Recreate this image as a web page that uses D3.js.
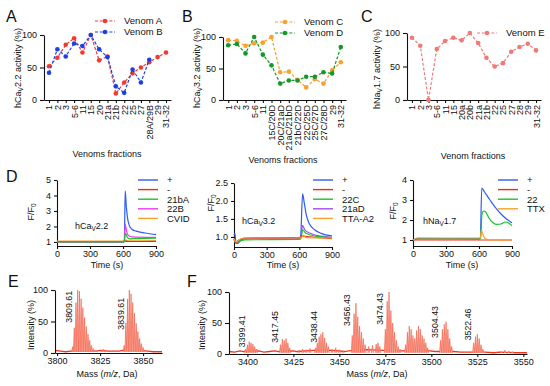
<!DOCTYPE html>
<html>
<head>
<meta charset="utf-8">
<script src="https://cdn.jsdelivr.net/npm/d3@7"></script>
<style>
  body { margin: 0; background: #fff; }
  svg text { font-family: "Liberation Sans", Arial, sans-serif; fill: #111; }
</style>
</head>
<body>
<svg id="fig" width="550" height="386"></svg>
<script>
// ---- data: activity panels (A, B, C) ----
var catsA = ["1","2","3","5-6","11","15","20","21a","21b","22","25","27","28A/29B","29","31-32"];
var venomA = [52,65,85,95,73,100,61,67,10,27,41,50,58,66,73];
var venomB = [42,78,67,87,83,100,78,66,21,11,47,27,62,null,null];

var catsB = ["1","2","3","5-6","11","15C/20D","20C/21aD","21aC/21bD","21bC/22D","22C/25D","25C/27D","27C/28D","29","31-32"];
var venomC = [95,94,86,90,91,100,44,45,32,20,33,26,47,60];
var venomD = [87,89,74,100,72,55,26,31,31,37,37,44,42,84];

var catsC = ["1","2","3","5-6","11","15","20a","20b","21a","21b","22","25","27","28","29","31-32"];
var venomE = [93,81,0,76,88,93,89,100,85,63,50,55,72,79,84,74];

// ---- data: fluorescence traces (D), [time s, F/F0] ----
var d1Plus  = [[0,1.0],[600,1.0],[612,1.03],[620,4.3],[630,3.3],[640,2.6],[655,2.1],[680,1.82],[720,1.7],[800,1.58],[900,1.47]];
var d1Minus = [[0,1.02],[600,1.02],[620,1.05],[650,1.03],[900,1.04]];
var d1_21bA = [[0,1.0],[600,1.0],[612,1.02],[622,1.55],[640,1.3],[660,1.2],[720,1.22],[900,1.25]];
var d1_22B  = [[0,1.0],[600,1.0],[612,1.03],[620,2.15],[632,1.7],[650,1.42],[680,1.33],[900,1.3]];
var d1CVID  = [[0,1.05],[600,1.05],[620,1.12],[650,1.08],[900,1.08]];

var d2Plus  = [[0,1.05],[8,1.1],[18,0.84],[35,0.82],[60,0.9],[100,0.95],[200,0.96],[600,0.96],[612,1.02],[630,2.2],[645,1.95],[665,1.6],[695,1.35],[740,1.2],[800,1.1],[900,1.03]];
var d2Minus = [[0,0.95],[18,0.85],[40,0.9],[100,0.97],[600,0.98],[620,1.03],[700,1.0],[900,0.95]];
var d2_22C  = [[0,0.95],[18,0.82],[40,0.87],[100,0.92],[600,0.93],[615,0.96],[630,1.2],[660,1.1],[750,1.02],[900,0.98]];
var d2_21aD = [[0,0.95],[18,0.83],[50,0.92],[100,0.95],[600,0.96],[615,1.0],[630,1.32],[650,1.2],[700,1.1],[800,1.02],[900,0.99]];
var d2TTA   = [[0,0.95],[18,0.86],[50,0.93],[100,0.97],[600,0.97],[620,0.98],[635,1.05],[660,0.98],[900,0.97]];

var d3Plus  = [[0,1.0],[40,1.08],[600,1.07],[612,1.1],[625,3.6],[650,3.4],[700,3.0],[750,2.62],[800,2.3],[850,2.05],[900,1.86]];
var d3Minus = [[0,1.0],[600,1.0],[900,1.0]];
var d3_22   = [[0,1.0],[40,1.05],[600,1.05],[615,1.1],[627,2.3],[642,2.45],[660,2.4],[690,2.1],[720,1.9],[760,1.78],[800,1.8],[840,1.9],[870,1.85],[900,1.72]];
var d3TTX   = [[0,1.0],[40,1.1],[600,1.1],[612,1.1],[622,1.5],[640,1.2],[665,1.05],[700,1.0],[900,1.0]];

// ---- data: mass spectra (E, F), [m/z, intensity %] ----
var peaksE = [[3809,10],[3810,40],[3811,80],[3812,100],[3813,98],[3814,86],[3815,72],[3816,56],[3817,42],[3818,30],[3819,20],[3820,12],[3821,7],[3822,4],
              [3826,5],[3827,6],[3828,4],[3832,3],[3834,4],
              [3839,12],[3840,48],[3841,86],[3842,100],[3843,94],[3844,80],[3845,63],[3846,47],[3847,34],[3848,23],[3849,15],[3850,9],[3851,5],[3852,3]];
var baseE = [[3799,4],[3802,3],[3805,2],[3808,3],[3823,3],[3825,4],[3830,3],[3833,3],[3836,3],[3838,4],[3853,3],[3856,2],[3861,2]];
var labelsE = ["3809.61","3839.61"];
var labelLevelE = [48,37];

var peaksF = [[3399,8],[3400,15],[3401,20],[3402,18],[3403,16],[3404,12],[3405,8],
              [3418,15],[3419,24],[3420,22],[3421,25],[3422,18],[3423,10],
              [3428,6],[3430,8],[3432,7],[3434,9],
              [3437,10],[3438,18],[3439,28],[3440,32],[3441,35],[3442,26],[3443,18],[3444,12],
              [3446,8],[3448,10],[3450,7],[3452,5],
              [3457,30],[3458,65],[3459,82],[3460,60],[3461,45],[3462,35],[3463,25],[3464,15],
              [3466,12],[3468,14],[3470,16],[3471,18],[3472,12],
              [3475,40],[3476,85],[3477,100],[3478,70],[3479,50],[3480,35],[3481,22],[3482,12],[3483,8],
              [3486,15],[3487,35],[3488,45],[3489,40],[3490,30],[3491,25],[3492,38],[3493,45],[3494,40],[3495,30],[3496,25],[3497,18],[3498,10],
              [3505,22],[3506,40],[3507,48],[3508,52],[3509,40],[3510,25],[3511,12],
              [3523,18],[3524,28],[3525,32],[3526,25],[3527,15],[3528,8],
              [3538,4],[3540,6],[3542,5],[3544,4]];
var baseF = [[3390,4],[3393,3],[3396,5],[3398,4],[3406,5],[3409,3],[3412,4],[3415,5],[3417,4],[3425,5],[3427,4],[3436,6],[3446,6],[3453,4],[3455,5],[3465,7],[3474,6],[3484,5],[3499,5],[3502,4],[3504,4],[3512,4],[3516,3],[3520,3],[3529,3],[3534,2],[3537,3],[3546,2],[3552,2]];
var labelsF = ["3399.41","3417.45","3438.44","3456.43","3474.43","3504.43","3522.46"];
var labelLevelF = [11,18,18,45,47,26,22];

var svg = d3.select("#fig");
var FONT = 9;

function styleAxis(g){
  g.attr("font-family", null).attr("font-size", null);
  g.selectAll("text").attr("font-size", FONT + "px").attr("fill", "#111");
  g.selectAll("path, line").attr("stroke", "#111").attr("stroke-width", 1.1);
}

// rotated label with an optional subscript
function rotLabel(cx, cy, parts){
  var t = svg.append("text")
      .attr("transform", "translate(" + cx + "," + cy + ") rotate(-90)")
      .attr("text-anchor", "middle")
      .attr("font-size", FONT + "px");
  parts.forEach(function(p){
    var s = t.append("tspan").text(p[0]);
    if (p[1] == "sub") s.attr("dy", 2).attr("font-size", "6.5px");
    if (p[1] == "up") s.attr("dy", -2);
  });
  return t;
}
function plainLabel(x, y, parts, anchor){
  var t = svg.append("text").attr("x", x).attr("y", y)
      .attr("font-size", FONT + "px").attr("text-anchor", anchor || "start");
  parts.forEach(function(p){
    var s = t.append("tspan").text(p[0]);
    if (p[1] == "sub") s.attr("dy", 2).attr("font-size", "6.5px");
    if (p[1] == "up") s.attr("dy", -2);
    if (p[1] == "it") s.attr("font-style", "italic");
  });
  return t;
}
function panelLetter(x, y, l){
  svg.append("text").attr("x", x).attr("y", y).attr("font-size", "16px").text(l);
}

// ---- activity panel ----
function activityPanel(o){
  var x = d3.scalePoint().domain(o.cats).range(o.xr).padding(0.6);
  var y = d3.scaleLinear().domain([0, 100]).range(o.yr);

  var xg = svg.append("g")
      .attr("transform", "translate(0," + o.yr[0] + ")")
      .call(d3.axisBottom(x).tickSize(3).tickSizeOuter(0));
  styleAxis(xg);
  xg.selectAll("text")
      .attr("transform", "rotate(-90)")
      .attr("text-anchor", "end")
      .attr("x", -5).attr("y", 0).attr("dy", "0.33em");

  var yg = svg.append("g")
      .attr("transform", "translate(" + o.xr[0] + ",0)")
      .call(d3.axisLeft(y).tickValues([0, 50, 100]).tickSize(4).tickSizeOuter(0));
  styleAxis(yg);

  o.series.forEach(function(s){
    var line = d3.line()
        .defined(function(d){ return d != null; })
        .x(function(d, i){ return x(o.cats[i]); })
        .y(function(d){ return y(d); });
    svg.append("path").datum(s.values)
        .attr("fill", "none").attr("stroke", s.color)
        .attr("stroke-width", 1.2).attr("stroke-dasharray", "3,1.8")
        .attr("d", line);
    svg.append("g").selectAll("circle")
        .data(s.values.map(function(v, i){ return {v: v, c: o.cats[i]}; }).filter(function(d){ return d.v != null; }))
        .enter().append("circle")
        .attr("cx", function(d){ return x(d.c); })
        .attr("cy", function(d){ return y(d.v); })
        .attr("r", 2.3).attr("fill", s.color);
  });

  // legend
  o.series.forEach(function(s, i){
    var ly = o.leg[1] + i * 11;
    svg.append("line").attr("x1", o.leg[0]).attr("x2", o.leg[0] + 20)
        .attr("y1", ly).attr("y2", ly)
        .attr("stroke", s.color).attr("stroke-width", 1.2).attr("stroke-dasharray", "3,1.8");
    svg.append("circle").attr("cx", o.leg[0] + 10).attr("cy", ly).attr("r", 2.3).attr("fill", s.color);
    svg.append("text").attr("x", o.leg[0] + 29).attr("y", ly + 3.3)
        .attr("font-size", "9.5px").text(s.name);
  });
}

activityPanel({cats: catsA, xr: [44, 171], yr: [100, 35], leg: [95, 21],
  series: [{name: "Venom A", values: venomA, color: "#f23a32"},
           {name: "Venom B", values: venomB, color: "#1d3fe6"}]});
activityPanel({cats: catsB, xr: [223, 346], yr: [100, 37], leg: [275, 22],
  series: [{name: "Venom C", values: venomC, color: "#f7a12e"},
           {name: "Venom D", values: venomD, color: "#15982a"}]});
activityPanel({cats: catsC, xr: [407, 541], yr: [100, 33], leg: [477, 33],
  series: [{name: "Venom E", values: venomE, color: "#f27878"}]});

panelLetter(6, 22, "A");
panelLetter(182, 22, "B");
panelLetter(361, 22, "C");
rotLabel(21, 68, [["hCa"], ["V", "sub"], ["2.2 activity (%)", "up"]]);
rotLabel(200, 68, [["hCa"], ["V", "sub"], ["3.2 activity (%)", "up"]]);
rotLabel(380, 69, [["hNa"], ["V", "sub"], ["1.7 activity (%)", "up"]]);
plainLabel(107, 157, [["Venoms fractions"]], "middle");
plainLabel(283, 163, [["Venoms fractions"]], "middle");
plainLabel(473, 159, [["Venom fractions"]], "middle");

// ---- trace panel ----
function tracePanel(o){
  var x = d3.scaleLinear().domain([0, 900]).range(o.xr);
  var y = d3.scaleLinear().domain(o.yd).range(o.yr);

  var xg = svg.append("g").attr("transform", "translate(0," + o.yr[0] + ")")
      .call(d3.axisBottom(x).tickValues([0, 300, 600, 900]).tickSize(3).tickSizeOuter(0));
  styleAxis(xg);
  xg.selectAll("text").attr("y", 5).attr("dy", "0.71em");
  var yg = svg.append("g").attr("transform", "translate(" + o.xr[0] + ",0)")
      .call(d3.axisLeft(y).tickValues(o.yt).tickFormat(d3.format(o.fmt)).tickSize(3).tickSizeOuter(0));
  styleAxis(yg);

  var line = d3.line().curve(d3.curveMonotoneX)
      .x(function(d){ return x(d[0]); })
      .y(function(d){ return y(d[1]); });
  o.series.forEach(function(s){
    svg.append("path").datum(s.pts)
        .attr("fill", "none").attr("stroke", s.color).attr("stroke-width", 1.2)
        .attr("d", line);
  });
  o.legOrder.forEach(function(s, i){
    var ly = 180 + i * 9.6;
    svg.append("line").attr("x1", o.leg).attr("x2", o.leg + 20)
        .attr("y1", ly).attr("y2", ly).attr("stroke", s.color).attr("stroke-width", 1.4);
    svg.append("text").attr("x", o.leg + 29).attr("y", ly + 3.3)
        .attr("font-size", "9.5px").text(s.name);
  });
}

var cPlus = "#2f5cf5", cMinus = "#f02a1a", cGreen = "#16c42a", cMag = "#f03cf0", cOr = "#f8a22a", cPur = "#a24cf0";

var s1 = [{name: "+", pts: d1Plus, color: cPlus}, {name: "-", pts: d1Minus, color: cMinus},
          {name: "21bA", pts: d1_21bA, color: cGreen}, {name: "22B", pts: d1_22B, color: cMag},
          {name: "CVID", pts: d1CVID, color: cOr}];
tracePanel({xr: [57, 156], yr: [246, 180], yd: [0.74, 5], yt: [1, 2, 3, 4, 5], fmt: "d", leg: 138,
  series: [s1[4], s1[0], s1[1], s1[3], s1[2]], legOrder: s1});

var s2 = [{name: "+", pts: d2Plus, color: cPlus}, {name: "-", pts: d2Minus, color: cMinus},
          {name: "22C", pts: d2_22C, color: cGreen}, {name: "21aD", pts: d2_21aD, color: cPur},
          {name: "TTA-A2", pts: d2TTA, color: cOr}];
tracePanel({xr: [234, 332], yr: [247, 183], yd: [0.72, 2.5], yt: [1, 1.5, 2, 2.5], fmt: ".1f", leg: 313,
  series: [s2[0], s2[3], s2[2], s2[1], s2[4]], legOrder: s2});

var s3 = [{name: "+", pts: d3Plus, color: cPlus}, {name: "-", pts: d3Minus, color: cMinus},
          {name: "22", pts: d3_22, color: cGreen}, {name: "TTX", pts: d3TTX, color: cOr}];
tracePanel({xr: [413, 512], yr: [246, 180], yd: [0.7, 4], yt: [1, 2, 3, 4], fmt: "d", leg: 498,
  series: [s3[0], s3[2], s3[1], s3[3]], legOrder: s3});

panelLetter(6, 182, "D");
rotLabel(34, 212, [["F/F"], ["0", "sub"]]);
rotLabel(214, 203, [["F/F"], ["0", "sub"]]);
rotLabel(396, 211, [["F/F"], ["0", "sub"]]);
plainLabel(75, 229, [["hCa"], ["V", "sub"], ["2.2", "up"]]);
plainLabel(242, 224, [["hCa"], ["V", "sub"], ["3.2", "up"]]);
plainLabel(423, 224, [["hNa"], ["V", "sub"], ["1.7", "up"]]);
plainLabel(107, 268, [["Time (s)"]], "middle");
plainLabel(283, 268, [["Time (s)"]], "middle");
plainLabel(462, 268, [["Time (s)"]], "middle");

// ---- spectrum panel ----
function spectrumPanel(o){
  var x = d3.scaleLinear().domain(o.xd).range(o.xr);
  var y = d3.scaleLinear().domain([0, 100]).range(o.yr);

  var line = d3.line().x(function(d){ return x(d[0]); }).y(function(d){ return y(d[1]); });
  svg.append("path").datum(o.base)
      .attr("fill", "none").attr("stroke", "#f2361e").attr("stroke-width", 1.3)
      .attr("d", line);
  svg.append("g").selectAll("path").data(o.peaks).enter().append("path")
      .attr("d", function(p){
        return line([[p[0] - 0.55, 2], [p[0], p[1]], [p[0] + 0.55, 2]]);
      })
      .attr("fill", "#f9ab9c").attr("stroke", "#f2573f").attr("stroke-width", 0.6);

  var xg = svg.append("g").attr("transform", "translate(0," + o.yr[0] + ")")
      .call(d3.axisBottom(x).tickValues(o.xt).tickFormat(d3.format("d")).tickSize(3).tickSizeOuter(0));
  styleAxis(xg);
  xg.selectAll("text").attr("y", 5).attr("dy", "0.71em");
  var yg = svg.append("g").attr("transform", "translate(" + o.xr[0] + ",0)")
      .call(d3.axisLeft(y).tickValues([0, 50, 100]).tickSize(4).tickSizeOuter(0));
  styleAxis(yg);

  o.labels.forEach(function(l, i){
    svg.append("text")
        .attr("transform", "translate(" + (x(+l) - 1.5) + "," + y(o.levels[i]) + ") rotate(-90)")
        .attr("font-size", "8.8px").text(l);
  });
}

spectrumPanel({xd: [3798.8, 3861], xr: [55, 162], yr: [353, 290], xt: [3800, 3825, 3850],
  peaks: peaksE, base: baseE, labels: labelsE, levels: labelLevelE});
spectrumPanel({xd: [3390, 3552], xr: [229, 527], yr: [354, 292], xt: [3400, 3425, 3450, 3475, 3500, 3525, 3550],
  peaks: peaksF, base: baseF, labels: labelsF, levels: labelLevelF});

panelLetter(8, 287, "E");
panelLetter(187, 287, "F");
rotLabel(34, 325, [["Intensity (%)"]]);
rotLabel(205, 325, [["Intensity (%)"]]);
plainLabel(107, 377, [["Mass ("], ["m/z", "it"], [", Da)"]], "middle");
plainLabel(377, 377, [["Mass ("], ["m/z", "it"], [", Da)"]], "middle");
</script>
</body>
</html>
